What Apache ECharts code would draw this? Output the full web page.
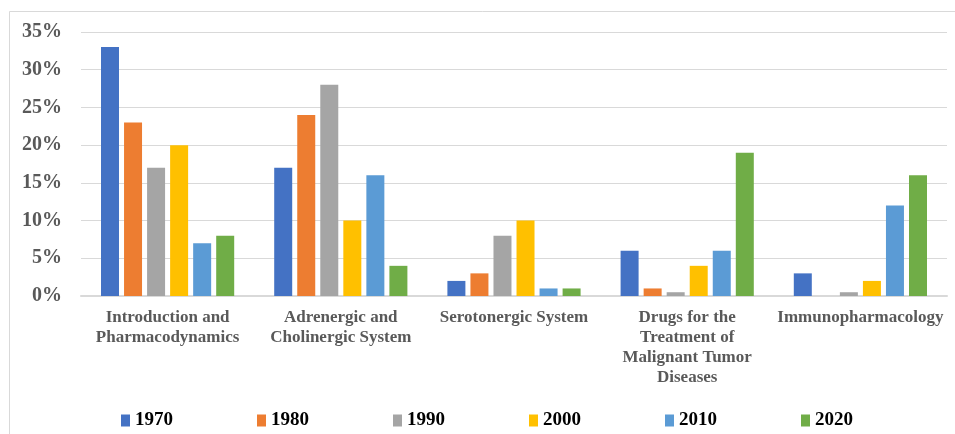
<!DOCTYPE html>
<html>
<head>
<meta charset="utf-8">
<script src="https://cdn.jsdelivr.net/npm/echarts@6/dist/echarts.min.js"></script>
<style>
html,body{margin:0;padding:0;background:#fff;}
#main{width:955px;height:434px;}
</style>
</head>
<body>
<div id="main"></div>
<script>
const categories = [
  "Introduction and\nPharmacodynamics",
  "Adrenergic and\nCholinergic System",
  "Serotonergic System",
  "Drugs for the\nTreatment of\nMalignant Tumor\nDiseases",
  "Immunopharmacology"
];
const seriesNames = ["1970", "1980", "1990", "2000", "2010", "2020"];
const v1970 = [33, 17, 2, 6, 3];
const v1980 = [23, 24, 3, 1, 0];
const v1990 = [17, 28, 8, 0.5, 0.5];
const v2000 = [20, 10, 10, 4, 2];
const v2010 = [7, 16, 1, 6, 12];
const v2020 = [8, 4, 1, 19, 16];
const yTicks = [0, 5, 10, 15, 20, 25, 30, 35];

const values = [v1970, v1980, v1990, v2000, v2010, v2020];
const colors = ["#4472C4", "#ED7D31", "#A5A5A5", "#FFC000", "#5B9BD5", "#70AD47"];
const font = "'Liberation Serif', 'Times New Roman', serif";

const chart = echarts.init(document.getElementById('main'));
chart.setOption({
  animation: false,
  backgroundColor: '#fff',
  graphic: [{
    type: 'polyline',
    shape: { points: [[9.5, 434], [9.5, 11.5], [955, 11.5]] },
    style: { stroke: '#d9d9d9', lineWidth: 1, fill: null },
    silent: true
  }],
  grid: { left: 81, right: 8, top: 32, bottom: 138 },
  xAxis: {
    type: 'category',
    data: categories,
    axisTick: { show: false },
    axisLine: { lineStyle: { color: '#d9d9d9', width: 2 } },
    axisLabel: {
      interval: 0,
      fontFamily: font, fontWeight: 'bold', fontSize: 17,
      color: '#595959', lineHeight: 20, margin: 12
    }
  },
  yAxis: {
    type: 'value',
    min: 0, max: 35, interval: 5,
    axisLine: { show: false },
    axisTick: { show: false },
    splitLine: { lineStyle: { color: '#d9d9d9', width: 1 } },
    axisLabel: {
      fontFamily: font, fontWeight: 'bold', fontSize: 20,
      color: '#595959', margin: 19,
      formatter: v => yTicks.includes(v) ? v + '%' : ''
    }
  },
  legend: {
    left: 121, top: 411, padding: 0,
    itemWidth: 9, itemHeight: 12, itemGap: 84,
    icon: 'rect',
    textStyle: { fontFamily: font, fontWeight: 'bold', fontSize: 19, color: '#000' },
    data: seriesNames
  },
  series: seriesNames.map((n, i) => ({
    name: n,
    type: 'bar',
    data: values[i],
    barWidth: 18,
    barGap: '28%',
    itemStyle: { color: colors[i], borderColor: '#fff', borderWidth: 0 }
  }))
});
</script>
</body>
</html>
